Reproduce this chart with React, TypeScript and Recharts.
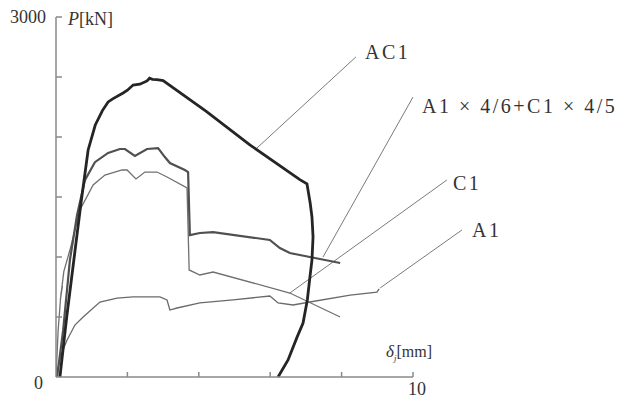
import { LineChart, Line, XAxis, YAxis, ReferenceLine } from 'recharts';

// load-displacement curves, x = δ [mm], y = P [kN]
const ac1X = [0.11, 0.3, 0.5, 0.7, 0.9, 1.1, 1.3, 1.46, 1.6, 1.88, 2.0, 2.16, 2.35, 2.55, 2.62, 2.7, 2.83, 3.0, 4.2, 5.43, 6.83, 7.03, 7.12, 7.17, 7.2, 7.17, 7.1, 7.04, 6.92, 6.75, 6.5, 6.22];
const ac1P = [0, 500, 975, 1450, 1892, 2100, 2220, 2292, 2320, 2367, 2390, 2433, 2440, 2467, 2490, 2480, 2478, 2470, 2215, 1935, 1645, 1610, 1450, 1333, 1167, 975, 800, 642, 450, 330, 142, 0];

const combX = [0.03, 0.2, 0.39, 0.59, 0.81, 1.09, 1.46, 1.79, 1.93, 2.21, 2.55, 2.86, 3.05, 3.19, 3.61, 3.7, 3.75, 4.03, 4.4, 5.99, 6.27, 6.55, 7.11, 7.96];
const combP = [0, 390, 975, 1350, 1640, 1790, 1867, 1900, 1900, 1842, 1900, 1908, 1833, 1783, 1725, 1708, 1183, 1200, 1208, 1142, 1075, 1033, 1000, 950];

const c1X = [0, 0.06, 0.14, 0.18, 0.12, 0.22, 0.39, 0.67, 1.04, 1.37, 1.85, 1.99, 2.24, 2.49, 2.83, 3.11, 3.67, 3.73, 4.03, 4.4, 6.55, 7.96];
const c1P = [0, 390, 700, 760, 640, 880, 1058, 1392, 1600, 1683, 1725, 1725, 1650, 1708, 1708, 1667, 1575, 892, 850, 875, 700, 500];

const a1X = [0, 0.14, 0.31, 0.53, 0.76, 1.23, 1.71, 2.16, 2.91, 3.11, 3.19, 3.39, 4.03, 4.96, 5.99, 6.22, 6.64, 7.11, 8.24, 8.99, 9.05];
const a1P = [0, 183, 308, 433, 500, 625, 658, 667, 667, 642, 558, 575, 617, 642, 675, 617, 600, 625, 683, 708, 735];

const xTicks = [0, 2, 4, 6, 8, 10];
const yTicks = [0, 500, 1000, 1500, 2000, 2500, 3000];

// leader lines: [label end, curve end]
const leaders = [
  { name: 'AC1', from: [8.4, 2667], to: [5.57, 1892] },
  { name: 'comb', from: [10.0, 2333], to: [7.48, 1000] },
  { name: 'C1', from: [10.95, 1642], to: [6.55, 700] },
  { name: 'A1', from: [11.37, 1225], to: [9.08, 742] },
];

const toRows = (xs: number[], ps: number[]) => xs.map((x, i) => ({ x, p: ps[i] }));

const serif = '"Liberation Serif", "DejaVu Serif", serif';
const axisGray = '#8a8a8a';

const YTick = (props: any) => {
  const { x, y, payload } = props;
  const v = payload.value;
  return (
    <g>
      {v !== 0 && <line x1={x} x2={x + 6} y1={y} y2={y} stroke={axisGray} strokeWidth={1.5} />}
      {v === 3000 && (
        <text x={x - 10} y={y + 6} textAnchor="end" fontFamily={serif} fontSize={18} fill="#333">3000</text>
      )}
      {v === 0 && (
        <text x={x - 13} y={y + 12} textAnchor="end" fontFamily={serif} fontSize={18} fill="#333">0</text>
      )}
    </g>
  );
};

const XTick = (props: any) => {
  const { x, y, payload } = props;
  const v = payload.value;
  return (
    <g>
      {v !== 0 && <line x1={x} x2={x} y1={y} y2={y - 5} stroke={axisGray} strokeWidth={1.5} />}
      {v === 10 && (
        <text x={x + 4} y={y + 18} textAnchor="middle" fontFamily={serif} fontSize={18} fill="#333">10</text>
      )}
    </g>
  );
};

const labelStyle = { fontFamily: serif, fontSize: 20, fill: '#333', letterSpacing: 2.5 };

export default function App() {
  return (
    <div style={{ position: 'absolute', left: 0, top: 0, width: 619, height: 398, background: '#fff' }}>
      <LineChart width={619} height={398} margin={{ top: 17, right: 206, bottom: 0, left: 0 }}>
        <XAxis
          type="number"
          dataKey="x"
          domain={[0, 10]}
          ticks={xTicks}
          allowDataOverflow
          height={21}
          tickSize={0}
          tickMargin={0}
          tickLine={false}
          tick={<XTick />}
          axisLine={{ stroke: axisGray, strokeWidth: 1.5 }}
        />
        <YAxis
          type="number"
          dataKey="p"
          domain={[0, 3000]}
          ticks={yTicks}
          width={56}
          tickSize={0}
          tickMargin={0}
          tickLine={false}
          tick={<YTick />}
          axisLine={{ stroke: axisGray, strokeWidth: 1.5 }}
        />
        {leaders.map((l) => (
          <ReferenceLine
            key={l.name}
            segment={[{ x: l.from[0], y: l.from[1] }, { x: l.to[0], y: l.to[1] }]}
            stroke="#7a7a7a"
            strokeWidth={1}
            ifOverflow="visible"
          />
        ))}
        <Line data={toRows(a1X, a1P)} dataKey="p" stroke="#6a6a6a" strokeWidth={1.3} dot={false} isAnimationActive={false} />
        <Line data={toRows(c1X, c1P)} dataKey="p" stroke="#707070" strokeWidth={1.3} dot={false} isAnimationActive={false} />
        <Line data={toRows(combX, combP)} dataKey="p" stroke="#505050" strokeWidth={2.2} dot={false} isAnimationActive={false} />
        <Line data={toRows(ac1X, ac1P)} dataKey="p" stroke="#252525" strokeWidth={2.8} dot={false} isAnimationActive={false} />
      </LineChart>
      <svg width={619} height={398} style={{ position: 'absolute', left: 0, top: 0, pointerEvents: 'none' }}>
        <text x={68} y={25} fontFamily={serif} fontSize={18} fill="#333">
          <tspan fontStyle="italic">P</tspan>[kN]
        </text>
        <text x={386} y={357} fontFamily={serif} fontSize={17} fill="#333">
          <tspan fontStyle="italic">δ</tspan>
          <tspan fontSize={9} dy={4} fontStyle="italic">j</tspan>
          <tspan dy={-4} fontSize={16}>[mm]</tspan>
        </text>
        <text x={365} y={59} {...labelStyle}>AC1</text>
        <text x={422} y={113} {...labelStyle}>A1 × 4/6+C1 × 4/5</text>
        <text x={453} y={190} {...labelStyle}>C1</text>
        <text x={472} y={237} {...labelStyle}>A1</text>
      </svg>
    </div>
  );
}
